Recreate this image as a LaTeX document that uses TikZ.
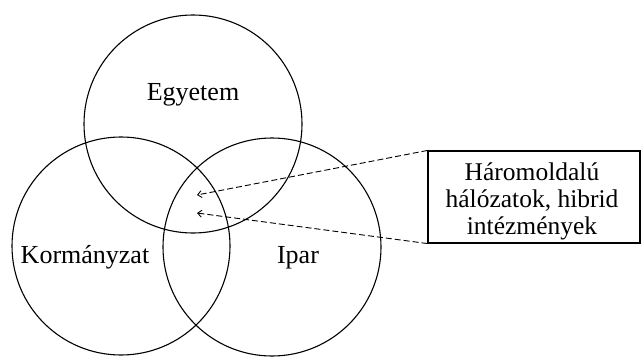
\documentclass[tikz,border=0pt]{standalone}
\usepackage{fontspec}
\setmainfont{Liberation Serif}
\usetikzlibrary{arrows.meta}
\begin{document}
\begin{tikzpicture}[x=1pt,y=-1pt,
  ring/.style={draw=black,line width=1.1pt},
  lbl/.style={anchor=base,inner sep=0pt,font=\fontsize{26}{30}\selectfont},
  infobox/.style={draw=black,line width=1.1pt,minimum width=212pt,minimum height=92pt,inner sep=0pt},
  boxtext/.style={inner sep=0pt,align=center,font=\fontsize{25.5}{27}\selectfont},
  pointer/.style={draw=black,line width=0.9pt,dash pattern=on 6pt off 3pt,-{Straight Barb[length=4pt,width=7pt]}}]
\useasboundingbox (0,0) rectangle (642,356);
\draw[ring] (193,124) circle[radius=109];
\draw[ring] (121,246) circle[radius=109];
\draw[ring] (272,247) circle[radius=109];
\node[lbl] (egy) at (193,100) {Egyetem};
\node[lbl] (korm) at (85,263) {Kormányzat};
\node[lbl] (ipar) at (298,263) {Ipar};
\node[infobox] (box) at (534,197) {};
\node[boxtext] (boxtxt) at ([xshift=-2pt,yshift=-4pt]box.center) {Háromoldalú\\hálózatok, hibrid\\intézmények};
\coordinate (t1) at (197,195);
\coordinate (t2) at (197,213);
\draw[pointer] (box.north west) -- (t1);
\draw[pointer] (box.south west) -- (t2);
\end{tikzpicture}
\end{document}
